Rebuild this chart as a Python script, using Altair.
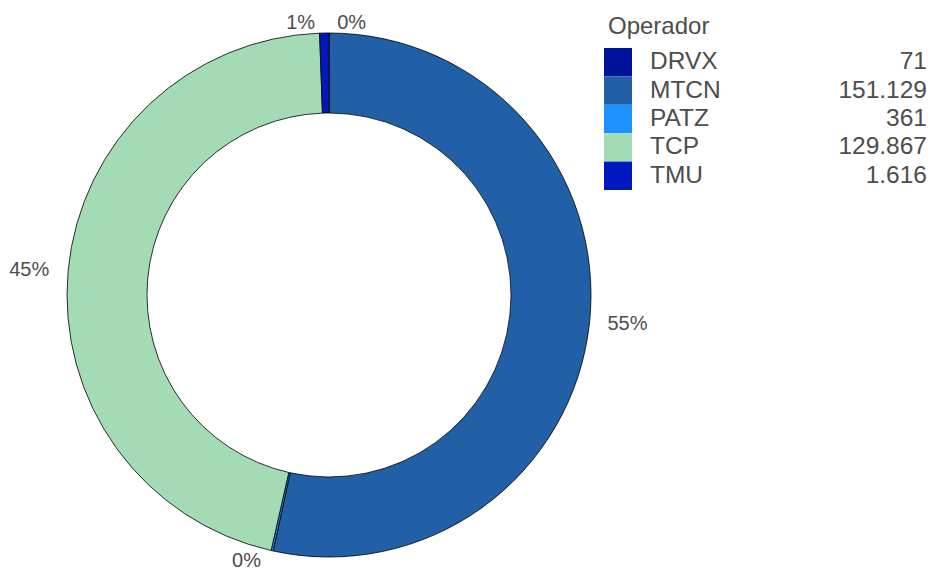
import altair as alt
import pandas as pd

operators = ["DRVX", "MTCN", "PATZ", "TCP", "TMU"]
values = [71, 151129, 361, 129867, 1616]
value_labels = ["71", "151.129", "361", "129.867", "1.616"]
pct_labels = ["0%", "55%", "0%", "45%", "1%"]
colors = ["#00129A", "#215FA6", "#1E90FF", "#A3DBB5", "#0019BE"]

df = pd.DataFrame({
    "Operador": operators,
    "valor": values,
    "valor_txt": value_labels,
    "pct": pct_labels,
})

FONT = "Liberation Sans"
TXT = "#4D4D4D"
CX, CY = 321, 287

base = alt.Chart(df)
color = alt.Color("Operador:N", scale=alt.Scale(domain=operators, range=colors), legend=None)
theta_scale = alt.Scale(domain=[0, 1])

frac_base = base.transform_joinaggregate(total="sum(valor)").transform_calculate(
    frac="datum.valor / datum.total"
)

arcs = frac_base.mark_arc(outerRadius=262, innerRadius=182, stroke="black", strokeWidth=0.8).encode(
    theta=alt.Theta("frac:Q", stack=True, scale=theta_scale),
    color=color,
    order=alt.Order("Operador:N"),
    x=alt.value(CX),
    y=alt.value(CY),
)

lab_base = frac_base.transform_window(
    cum="sum(frac)", sort=[alt.SortField("Operador")], frame=[None, 0]
).transform_calculate(mid="datum.cum - datum.frac / 2")

def lab_layer(cond, align, dx):
    return lab_base.transform_filter(cond).mark_text(
        align=align, baseline="middle", radius=272, fontSize=20, color=TXT, font=FONT, dx=dx
    ).encode(
        theta=alt.Theta("mid:Q", stack=None, scale=theta_scale),
        text="pct:N",
        x=alt.value(CX),
        y=alt.value(CY),
    )

lab_left = lab_layer("datum.mid < 0.5", "left", 8)
lab_right = lab_layer("datum.mid >= 0.5", "right", -9)

ysc = alt.Scale(domain=operators, range=[40, 182], paddingInner=0, paddingOuter=0)

swatch = base.mark_rect().encode(
    x=alt.value(596), x2=alt.value(624),
    y=alt.Y("Operador:N", scale=ysc, axis=None),
    color=color,
)
names = base.mark_text(align="left", baseline="middle", fontSize=24.5, color=TXT, font=FONT).encode(
    x=alt.value(642),
    y=alt.Y("Operador:N", scale=ysc, axis=None),
    text="Operador:N",
)
vals = base.mark_text(align="right", baseline="middle", fontSize=24.5, color=TXT, font=FONT).encode(
    x=alt.value(919),
    y=alt.Y("Operador:N", scale=ysc, axis=None),
    text="valor_txt:N",
)
title = alt.Chart(pd.DataFrame({"t": ["Operador"]})).mark_text(
    align="left", baseline="middle", fontSize=24, color=TXT, font=FONT
).encode(x=alt.value(600), y=alt.value(19), text="t:N")

chart = alt.layer(arcs, lab_left, lab_right, swatch, names, vals, title).properties(
    width=920, height=564, padding=0, autosize=alt.AutoSizeParams(type="none")
).configure_view(stroke=None)

chart.save("out.html", embed_options={"renderer": "svg", "actions": False})
